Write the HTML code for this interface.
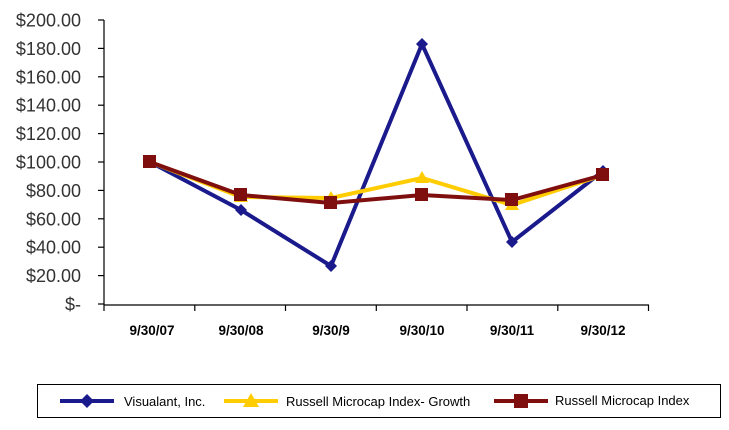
<!DOCTYPE html>
<html><head><style>body{margin:0;background:#fff}svg{display:block}</style></head><body>
<svg width="729" height="430" xmlns="http://www.w3.org/2000/svg" font-family="Liberation Sans, sans-serif">
<g stroke="#000" stroke-width="1.2">
<line x1="104" y1="20" x2="104" y2="305"/>
<line x1="104" y1="305" x2="649" y2="305"/>
<line x1="98" y1="20" x2="104" y2="20"/><line x1="98" y1="48.4" x2="104" y2="48.4"/><line x1="98" y1="76.8" x2="104" y2="76.8"/><line x1="98" y1="105.2" x2="104" y2="105.2"/><line x1="98" y1="133.6" x2="104" y2="133.6"/><line x1="98" y1="162" x2="104" y2="162"/><line x1="98" y1="190.4" x2="104" y2="190.4"/><line x1="98" y1="218.8" x2="104" y2="218.8"/><line x1="98" y1="247.2" x2="104" y2="247.2"/><line x1="98" y1="275.6" x2="104" y2="275.6"/><line x1="98" y1="304" x2="104" y2="304"/>
<line x1="104" y1="305" x2="104" y2="311"/><line x1="194.8" y1="305" x2="194.8" y2="311"/><line x1="285.5" y1="305" x2="285.5" y2="311"/><line x1="376.3" y1="305" x2="376.3" y2="311"/><line x1="467" y1="305" x2="467" y2="311"/><line x1="557.8" y1="305" x2="557.8" y2="311"/><line x1="648.5" y1="305" x2="648.5" y2="311"/>
</g>
<g font-size="18" fill="#333" text-anchor="end">
<text x="81" y="26.5">$200.00</text><text x="81" y="54.9">$180.00</text><text x="81" y="83.3">$160.00</text><text x="81" y="111.7">$140.00</text><text x="81" y="140.1">$120.00</text><text x="81" y="168.5">$100.00</text><text x="81" y="196.9">$80.00</text><text x="81" y="225.3">$60.00</text><text x="81" y="253.7">$40.00</text><text x="81" y="282.1">$20.00</text><text x="81" y="310.5">$-</text>
</g>
<g font-size="13.5" font-weight="bold" fill="#000" text-anchor="middle">
<text x="152" y="335">9/30/07</text><text x="241" y="335">9/30/08</text><text x="331" y="335">9/30/9</text><text x="422" y="335">9/30/10</text><text x="512" y="335">9/30/11</text><text x="603" y="335">9/30/12</text>
</g>
<polyline fill="none" stroke="#1a1a8c" stroke-width="4" points="150,162 241,210 331,266 422,44 512,242 603,171"/>
<g fill="#1a1a8c">
<polygon points="150,156 156,162 150,168 144,162"/><polygon points="241,204 247,210 241,216 235,210"/><polygon points="331,260 337,266 331,272 325,266"/><polygon points="422,38 428,44 422,50 416,44"/><polygon points="512,236 518,242 512,248 506,242"/><polygon points="603,165 609,171 603,177 597,171"/>
</g>
<polyline fill="none" stroke="#ffcc00" stroke-width="4" points="150,162 241,197 331,198 422,178 512,205 603,175"/>
<g fill="#ffcc00">
<polygon points="241,190 248,202 234,202"/><polygon points="331,191 338,203 324,203"/><polygon points="422,171 429,183 415,183"/><polygon points="512,198 519,210 505,210"/>
</g>
<polyline fill="none" stroke="#7f0f0f" stroke-width="4" points="150,162 241,195 331,203 422,195 512,200 603,175"/>
<g fill="#7f0f0f">
<rect x="143" y="155" width="13" height="13"/><rect x="234" y="188" width="13" height="13"/><rect x="324" y="196" width="13" height="13"/><rect x="415" y="188" width="13" height="13"/><rect x="505" y="193" width="13" height="13"/><rect x="596" y="168" width="13" height="13"/>
</g>
<rect x="37.5" y="384.5" width="683" height="33" fill="none" stroke="#000" stroke-width="1"/>
<line x1="60" y1="401" x2="114" y2="401" stroke="#1a1a8c" stroke-width="4"/>
<polygon points="87,394 94,401 87,408 80,401" fill="#1a1a8c"/>
<text x="124" y="406" font-size="13" fill="#000">Visualant, Inc.</text>
<line x1="224" y1="401" x2="278" y2="401" stroke="#ffcc00" stroke-width="4"/>
<polygon points="251,393 259,407 243,407" fill="#ffcc00"/>
<text x="286" y="406" font-size="13" fill="#000">Russell Microcap Index- Growth</text>
<line x1="494" y1="401" x2="548" y2="401" stroke="#7f0f0f" stroke-width="4"/>
<rect x="514" y="394" width="14" height="14" fill="#7f0f0f"/>
<text x="555" y="405" font-size="13" fill="#000">Russell Microcap Index</text>
</svg>
</body></html>
